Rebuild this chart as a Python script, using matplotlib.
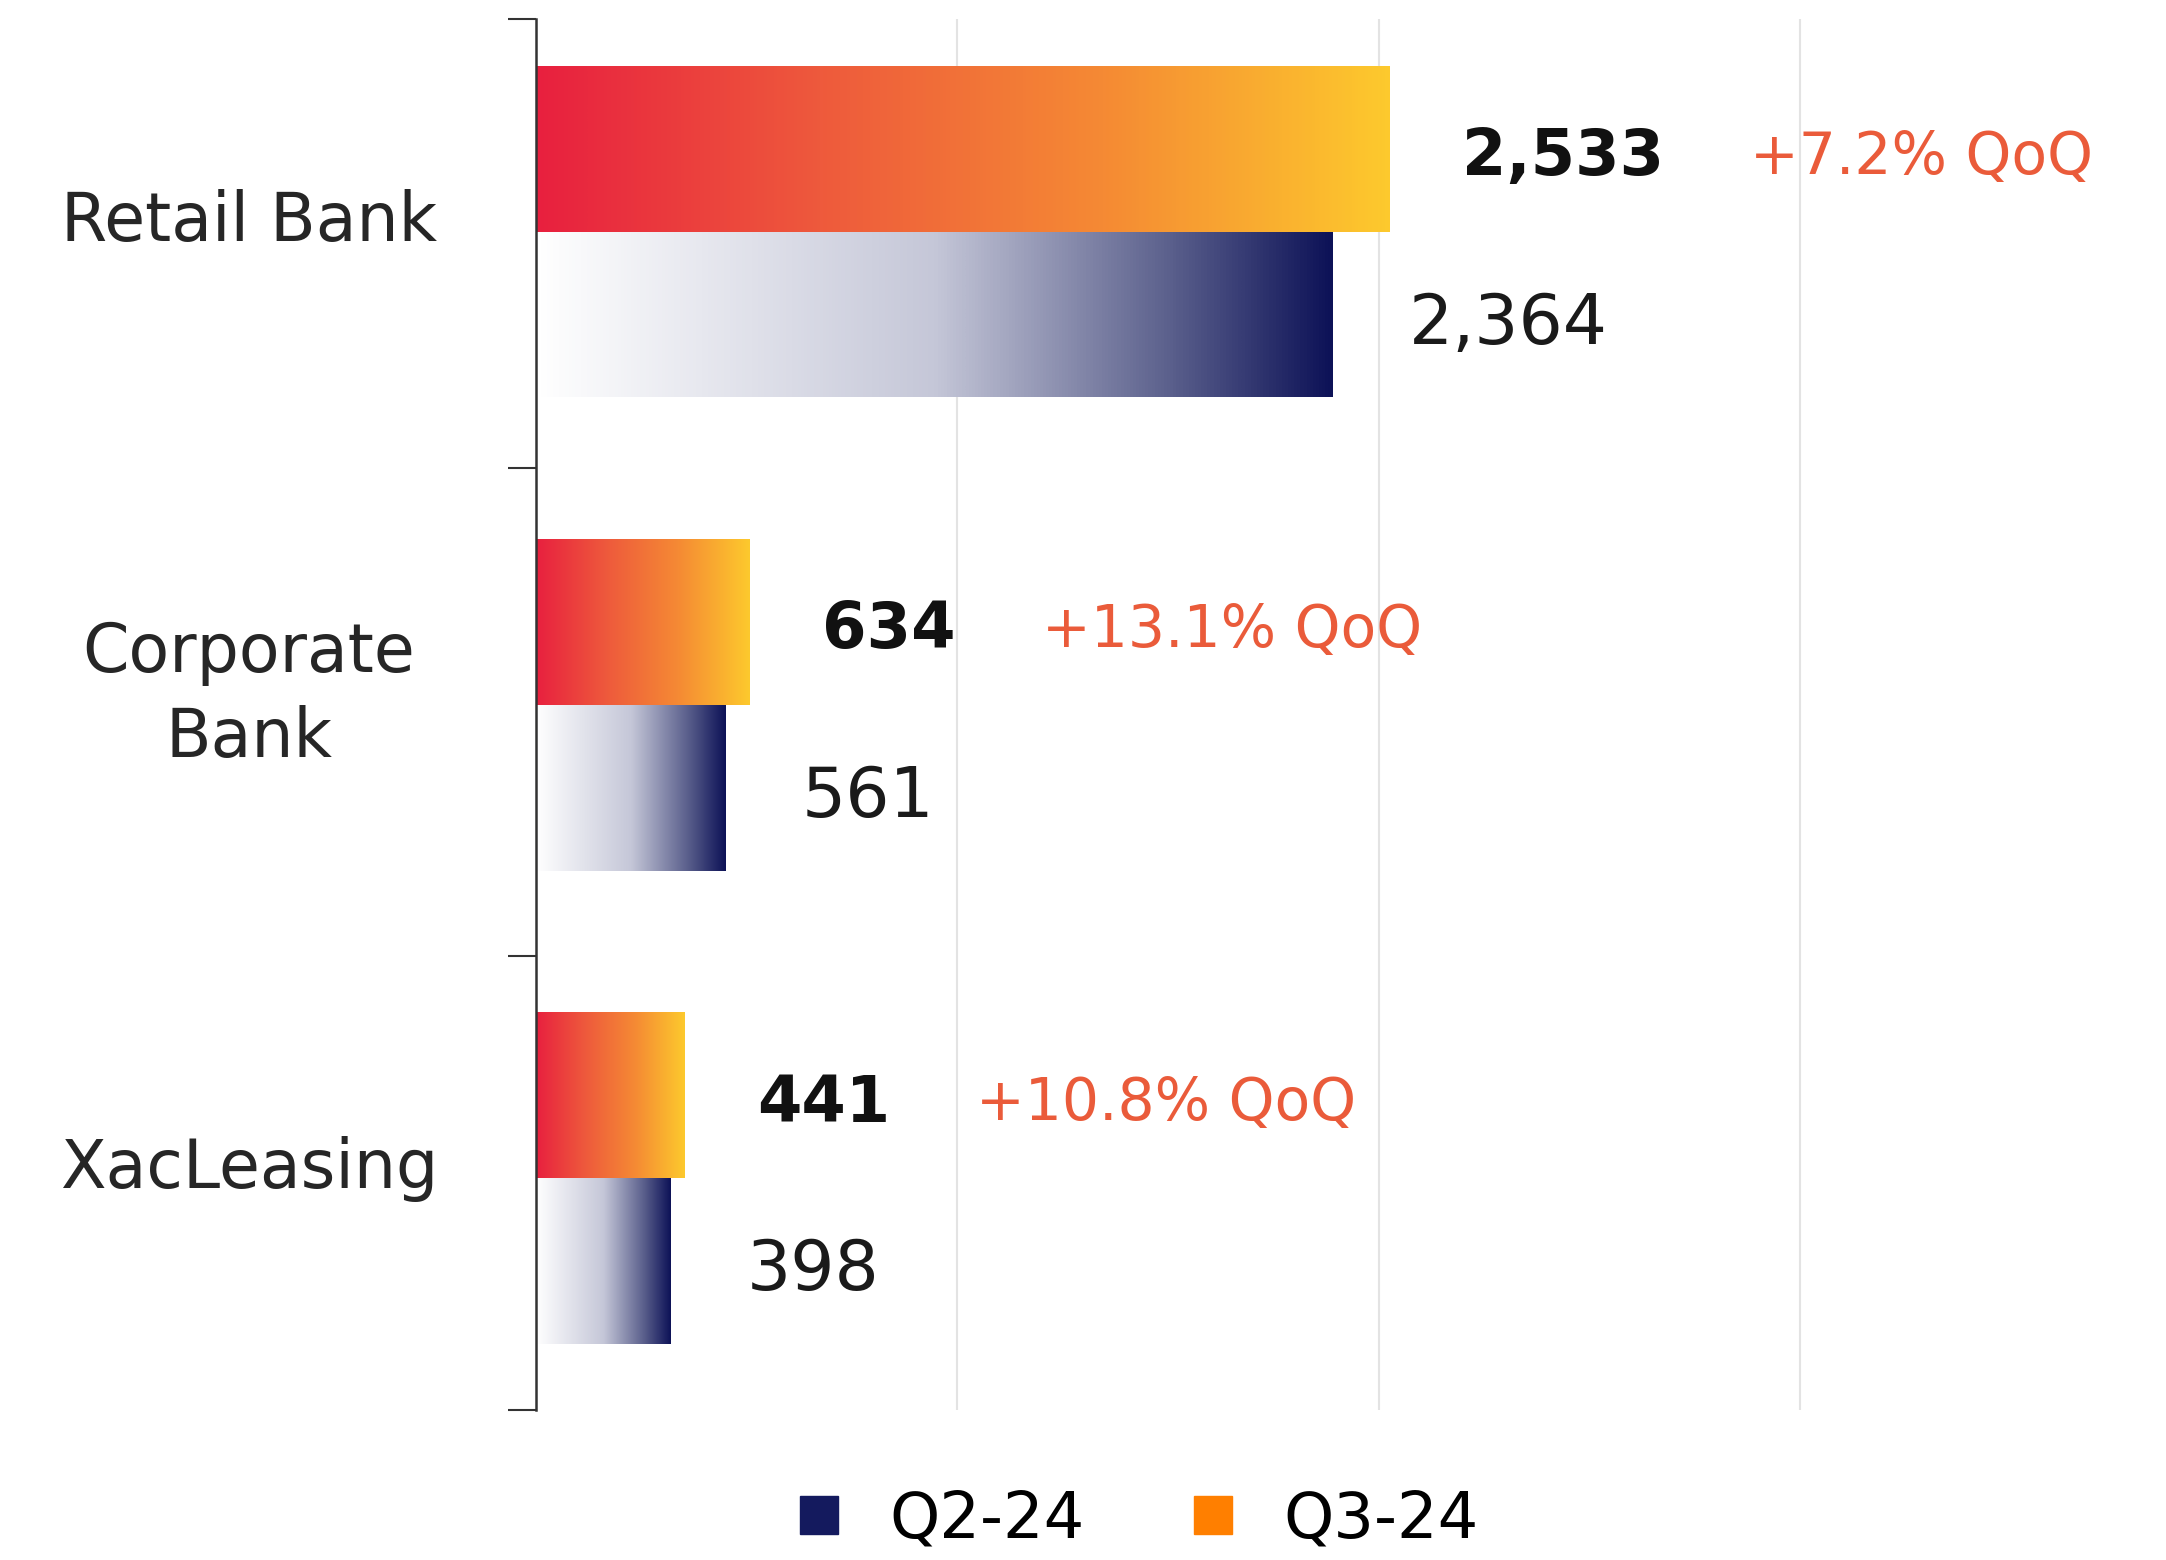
import numpy as np
import matplotlib
matplotlib.use("Agg")
import matplotlib.pyplot as plt
from matplotlib.colors import LinearSegmentedColormap
from matplotlib.lines import Line2D
from matplotlib.transforms import blended_transform_factory

# data
segments = ["Retail Bank", "Corporate\nBank", "XacLeasing"]
q2_24 = [2364, 561, 398]
q3_24 = [2533, 634, 441]
qoq = ["+7.2% QoQ", "+13.1% QoQ", "+10.8% QoQ"]

plt.rcParams['font.family'] = ['DejaVu Sans']

cm_q3 = LinearSegmentedColormap.from_list("q3", ["#E8203F", "#EE5A3C", "#F58A34", "#FDC92D"])
cm_q2 = LinearSegmentedColormap.from_list("q2", [(0, "#FFFFFF"), (0.5, "#C5C7D8"), (0.8, "#5A5F8C"), (1, "#0D1257")])
grad = np.linspace(0, 1, 256).reshape(1, -1)

fig = plt.figure(figsize=(21.66, 15.6), dpi=100)
ax = fig.add_axes([0.2475, 0.0962, 0.7525, 0.8917])

y = np.arange(len(segments))
h = 0.35
bars3 = ax.barh(y - h / 2, q3_24, height=h, color="none", edgecolor="none")
bars2 = ax.barh(y + h / 2, q2_24, height=h, color="none", edgecolor="none")

for bars, cmap in [(bars3, cm_q3), (bars2, cm_q2)]:
    for b in bars:
        x0, y0 = b.get_x(), b.get_y()
        im = ax.imshow(grad, extent=[x0, x0 + b.get_width(), y0 + b.get_height(), y0],
                       cmap=cmap, aspect="auto", zorder=2, interpolation="bicubic")
        im.set_clip_path(b)

for i in range(len(segments)):
    t3 = ax.annotate(f"{q3_24[i]:,}", (q3_24[i], y[i] - h / 2), xytext=(52, -6), textcoords="offset points",
                     va="center", ha="left", fontsize=46, fontweight="bold", color="#111111")
    ax.annotate(f"{q2_24[i]:,}", (q2_24[i], y[i] + h / 2), xytext=(55, -7), textcoords="offset points",
                va="center", ha="left", fontsize=50, color="#1a1a1a")
    ax.annotate(qoq[i], (1, 0.5), xycoords=t3, xytext=(62, 0), textcoords="offset points",
                va="center", ha="left", fontsize=42, color="#EA5B3A")

trans = blended_transform_factory(fig.transFigure, ax.transData)
for i, s in enumerate(segments):
    ax.text(0.115, y[i] - 0.02, s, transform=trans, ha="center", va="center",
            fontsize=48, color="#262626", linespacing=1.35)

ax.set_xlim(0, 4837)
ax.set_ylim(2.49, -0.45)
ax.set_xticks([1250, 2500, 3750])
ax.set_xticklabels([])
ax.tick_params(axis="x", length=0)
ax.grid(axis="x", color="#E3E3E3", linewidth=1.5, zorder=0)
ax.set_axisbelow(True)
ax.set_yticks([-0.45, 0.5, 1.53, 2.49])
ax.set_yticklabels([])
ax.tick_params(axis="y", length=20, width=1.5, color="#333333")
for sp in ["top", "right", "bottom"]:
    ax.spines[sp].set_visible(False)
ax.spines["left"].set_color("#333333")
ax.spines["left"].set_linewidth(1.8)

handles = [Line2D([], [], marker="s", linestyle="none", markersize=28, color="#141A5E"),
           Line2D([], [], marker="s", linestyle="none", markersize=28, color="#FF7F00")]
fig.legend(handles, ["Q2-24", "Q3-24"], loc="center", bbox_to_anchor=(0.523, 0.026), ncol=2,
           frameon=False, fontsize=46, handlelength=1.0, handletextpad=0.6, columnspacing=1.5)

fig.savefig("out.png", dpi=100)
